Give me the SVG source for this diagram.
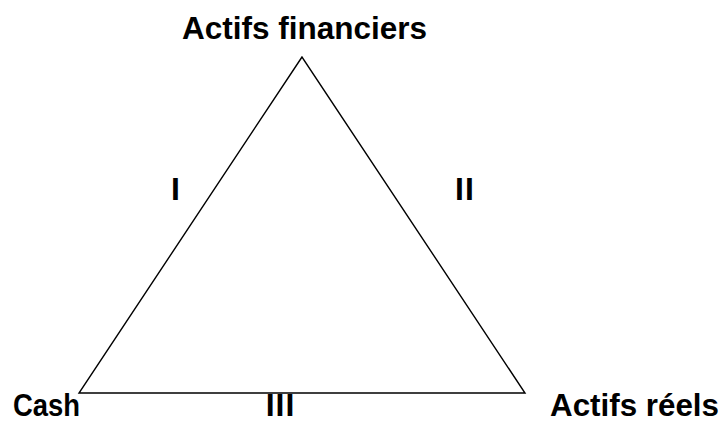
<svg xmlns="http://www.w3.org/2000/svg" width="721" height="423" viewBox="0 0 721 423">
<style>
.lbl{font-family:"Liberation Sans",Arial,sans-serif;font-weight:bold;font-size:32px;fill:#000}
.edge{fill:none;stroke:#000;stroke-width:1.4;stroke-linejoin:miter}
</style>
<rect width="721" height="423" fill="#fff"/>
<g id="connectors">
<polygon class="edge" points="302,57 79,393 525,393"/>
</g>
<g id="node-actifs-financiers"><text class="lbl" x="182" y="39" textLength="245" lengthAdjust="spacingAndGlyphs">Actifs financiers</text></g>
<g id="node-cash"><text class="lbl" x="13" y="416" textLength="67" lengthAdjust="spacingAndGlyphs">Cash</text></g>
<g id="node-actifs-reels"><text class="lbl" x="550" y="416" textLength="169" lengthAdjust="spacingAndGlyphs">Actifs réels</text></g>
<g id="label-I"><text class="lbl" x="175.5" y="200" text-anchor="middle">I</text></g>
<g id="label-II"><text class="lbl" x="465" y="200" text-anchor="middle" letter-spacing="1">II</text></g>
<g id="label-III"><text class="lbl" x="280.5" y="416" text-anchor="middle" letter-spacing="1">III</text></g>
</svg>
